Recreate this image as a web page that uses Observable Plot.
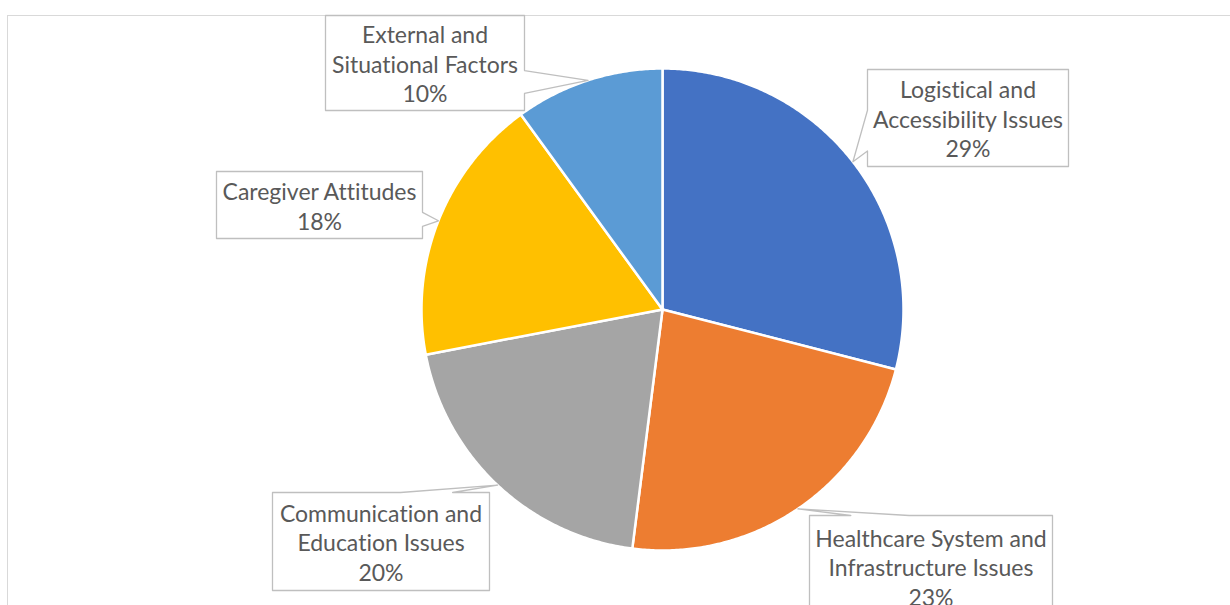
<!DOCTYPE html>
<html>
<head>
<meta charset="utf-8">
<script src="https://cdn.jsdelivr.net/npm/d3@7"></script>
<script src="https://cdn.jsdelivr.net/npm/@observablehq/plot@0.6"></script>
<style>
  html, body { margin: 0; padding: 0; background: #fff; }
  #chart { position: relative; width: 1230px; height: 605px; overflow: hidden; }
  #chart .area { position: absolute; left: 7px; top: 15px; right: -4px; bottom: -4px;
                 border: 1.5px solid #d9d9d9; box-sizing: border-box; }
  #chart svg { position: absolute; left: 0; top: 0; }
  #chart svg text { font-variant-ligatures: none; }
</style>
</head>
<body>
<div id="chart"><div class="area"></div></div>
<script>
// Barrier categories, clockwise from 12 o'clock
const categories = [
  "Logistical and Accessibility Issues",
  "Healthcare System and Infrastructure Issues",
  "Communication and Education Issues",
  "Caregiver Attitudes",
  "External and Situational Factors"
];
// Share of responses (%)
const shares = [29, 23, 20, 18, 10];
// Callout text (line-broken category names)
const labelText = [
  "Logistical and\nAccessibility Issues",
  "Healthcare System and\nInfrastructure Issues",
  "Communication and\nEducation Issues",
  "Caregiver Attitudes",
  "External and\nSituational Factors"
];

// Slice colours
const palette = ["#4472C4", "#ED7D31", "#A5A5A5", "#FFC000", "#5B9BD5"];

// Layout: pie centre/radius and callout boxes [x1, y1, x2, y2] with the side
// the pointer leaves from and where its base sits along that side (0..1)
const pieLayout = {cx: 662, cy: 309, r: 241};
const calloutLayout = [
  {box: [867, 69, 1068, 166], side: "left",  base: [0.42, 0.84]},
  {box: [809, 515, 1052, 617], side: "top",  base: [0.17, 0.41]},
  {box: [272, 492, 489, 590], side: "top",   base: [0.59, 0.83]},
  {box: [216, 171, 422, 238], side: "right", base: [0.61, 0.82]},
  {box: [325, 15, 524, 110], side: "right",  base: [0.58, 0.82]}
];

const {cx, cy, r} = pieLayout;
const polar = (a, k = 1) => [cx + k * r * Math.sin(a), cy - k * r * Math.cos(a)];

const arcs = d3.pie().sort(null).value(d => d)(shares);

// Slice outlines: centre point followed by the arc, sampled every half degree
const slicePoints = arcs.flatMap((a, i) => {
  const n = Math.max(2, Math.ceil((a.endAngle - a.startAngle) / (Math.PI / 360)));
  const pts = [{category: categories[i], x: cx, y: cy}];
  for (let j = 0; j <= n; ++j) {
    const [x, y] = polar(a.startAngle + (a.endAngle - a.startAngle) * j / n);
    pts.push({category: categories[i], x, y});
  }
  return pts;
});

// Callout shapes: a box with a wedge pointing at the slice's mid-angle
const lerp = (a, b, t) => a + (b - a) * t;
function calloutPolygon({box, side, base}, tip) {
  const [x1, y1, x2, y2] = box;
  const pts = [[x1, y1]];
  if (side === "top") pts.push([lerp(x1, x2, base[0]), y1], tip, [lerp(x1, x2, base[1]), y1]);
  pts.push([x2, y1]);
  if (side === "right") pts.push([x2, lerp(y1, y2, base[0])], tip, [x2, lerp(y1, y2, base[1])]);
  pts.push([x2, y2], [x1, y2]);
  if (side === "left") pts.push([x1, lerp(y1, y2, base[1])], tip, [x1, lerp(y1, y2, base[0])]);
  return pts;
}

const calloutPoints = arcs.flatMap((a, i) => {
  const tip = polar((a.startAngle + a.endAngle) / 2, 1.0);
  return calloutPolygon(calloutLayout[i], tip).map(([x, y]) => ({id: i, x, y}));
});

const labels = arcs.map((a, i) => {
  const [x1, y1, x2, y2] = calloutLayout[i].box;
  return {x: (x1 + x2) / 2, y: (y1 + y2) / 2 + 0.5, text: `${labelText[i]}\n${shares[i]}%`};
});

const fontSize = 23;
const chart = Plot.plot({
  width: 1230,
  height: 605,
  margin: 0,
  x: {domain: [0, 1230], range: [0, 1230], axis: null},
  y: {domain: [0, 605], range: [0, 605], axis: null},
  color: {domain: categories, range: palette},
  style: {background: "transparent", fontFamily: "Lato, 'Open Sans', sans-serif", overflow: "visible"},
  marks: [
    Plot.line(slicePoints, {
      x: "x", y: "y", z: "category", fill: "category",
      stroke: "white", strokeWidth: 2.5, strokeLinejoin: "round", curve: "linear-closed"
    }),
    Plot.line(calloutPoints, {
      x: "x", y: "y", z: "id", fill: "white",
      stroke: "#bfbfbf", strokeWidth: 1.3, curve: "linear-closed"
    }),
    Plot.text(labels, {
      x: "x", y: "y", text: "text",
      fontSize, lineHeight: 29.5 / fontSize, fill: "#595959"
    })
  ]
});
document.getElementById("chart").appendChild(chart);
</script>
</body>
</html>
